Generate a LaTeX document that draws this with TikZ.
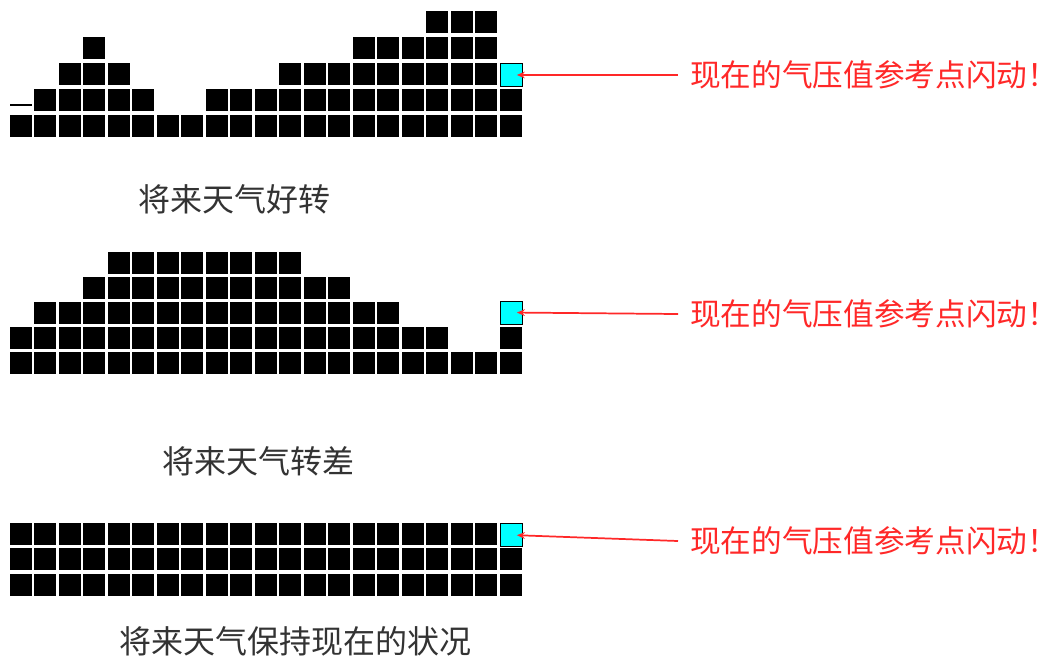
\documentclass[tikz,border=0pt]{standalone}
\usepackage{fontspec}
\setmainfont{Noto Sans CJK SC}
\usetikzlibrary{arrows.meta}
\definecolor{msgred}{RGB}{255,40,40}
\definecolor{nowcyan}{RGB}{0,255,255}
\tikzset{
  cell/.style={fill=black},
  nowcell/.style={draw=black, line width=0.3pt, fill=nowcyan, minimum width=16.5pt, minimum height=17.5pt, inner sep=0pt},
  msg/.style={text=msgred, anchor=west, inner sep=0pt, outer xsep=9pt, font=\fontsize{23}{27}\selectfont},
  caption/.style={text=black!80, font=\fontsize{24}{28}\selectfont},
  pointer/.style={msgred, line width=1.3pt, -{Stealth[length=6pt,width=5pt]}, shorten >=4pt}
}
\begin{document}
\begin{tikzpicture}[x=0.75pt,y=-0.75pt]
\useasboundingbox (0,0) rectangle (1063,662);
%\draw[help lines,step=24.5] (0,0) grid (1063,662);
% first bar row: weather getting better
\foreach \h [count=\i from 0] in {1,2,3,4,3,2,1,1,2,2,2,3,3,3,4,4,4,5,5,5,2}
  \foreach \r in {1,...,\h}
    \fill[cell] (9.5+24.5*\i,140.3-25.8*\r) rectangle +(22,22);
\draw[line width=1pt] (10,105) -- (32,105);
\node[nowcell] (now1) at (511.5,75) {};
\node[msg] (msg1) at (678,75) {现在的气压值参考点闪动！};
\draw[pointer] (msg1.west) -- (now1.center);
\node[caption] (cap1) at (234,199) {将来天气好转};
% second bar row: weather getting worse
\foreach \h [count=\i from 0] in {2,3,3,4,5,5,5,5,5,5,5,5,4,4,3,3,2,2,1,1,2}
  \foreach \r in {1,...,\h}
    \fill[cell] (9.5+24.5*\i,376.5-25*\r) rectangle +(22,22);
\node[nowcell] (now2) at (511.5,312.5) {};
\node[msg] (msg2) at (678,314) {现在的气压值参考点闪动！};
\draw[pointer] (msg2.west) -- (now2.center);
\node[caption] (cap2) at (258,461) {将来天气转差};
% third bar row: no change
\foreach \i in {0,...,20}
  \foreach \r in {1,2,3}
    \fill[cell] (9.5+24.5*\i,599-25.5*\r) rectangle +(22,22);
\node[nowcell] (now3) at (511.5,535) {};
\node[msg] (msg3) at (678,541) {现在的气压值参考点闪动！};
\draw[pointer] (msg3.west) -- (now3.center);
\node[caption] (cap3) at (295,641) {将来天气保持现在的状况};
\end{tikzpicture}
\end{document}
